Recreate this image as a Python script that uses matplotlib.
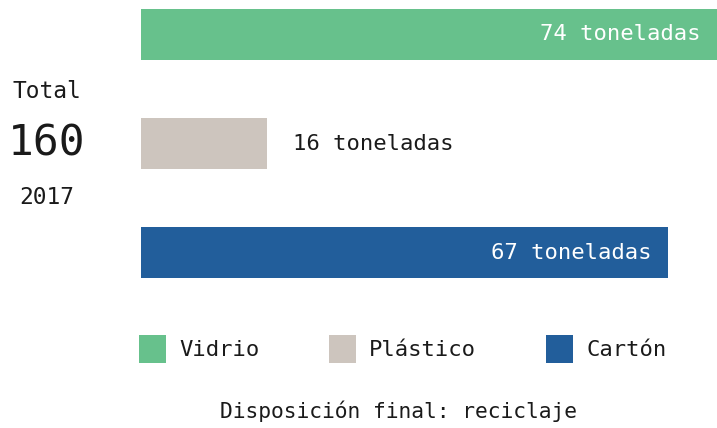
import matplotlib.pyplot as plt

# datos
categorias = ['Vidrio', 'Plástico', 'Cartón']
toneladas = [74, 16, 67]
colores = ['#67c18c', '#cdc5be', '#225e9b']
total = 160
anio = '2017'

plt.rcParams['font.family'] = ['DejaVu Sans Mono']
texto = '#1a1a1a'

fig = plt.figure(figsize=(7.17, 4.28), dpi=100)
W, H = 717, 428
# eje de barras: x de 141 a 717 px, y de 0 a 287 px (desde arriba)
ax = fig.add_axes([141 / W, 1 - 287 / H, 576 / W, 287 / H])

pos = [0, 1, 2]
barras = ax.barh(pos, toneladas, height=0.468, color=colores)
ax.set_xlim(0, 576 / 7.87)
ax.set_ylim(2.3165, -0.3165)
ax.axis('off')

for i, v in enumerate(toneladas):
    etiqueta = f'{v} toneladas'
    fin = min(v, ax.get_xlim()[1])
    if v > 30:
        ax.annotate(etiqueta, (fin, i), xytext=(-17, 0), textcoords='offset pixels',
                    ha='right', va='center', color='white', fontsize=16)
    else:
        ax.annotate(etiqueta, (fin, i), xytext=(26, 0), textcoords='offset pixels',
                    ha='left', va='center', color=texto, fontsize=16)

# total a la izquierda
fig.text(47 / W, 1 - 91 / H, 'Total', ha='center', va='center', fontsize=16.5, color=texto)
fig.text(47 / W, 1 - 144 / H, str(total), ha='center', va='center', fontsize=31, color=texto)
fig.text(47 / W, 1 - 197 / H, anio, ha='center', va='center', fontsize=16.5, color=texto)

# leyenda
fig.legend(handles=list(barras), labels=categorias, ncol=3, frameon=False,
           loc='center left', bbox_to_anchor=(139 / W, 1 - 349 / H),
           fontsize=16, handlelength=1.2, handleheight=1.5, handletextpad=0.6,
           columnspacing=3.15, labelcolor=texto, borderaxespad=0, borderpad=0)

fig.text(398 / W, 1 - 411 / H, 'Disposición final: reciclaje', ha='center', va='center',
         fontsize=15.3, color=texto)

fig.savefig('out.png', dpi=100)
